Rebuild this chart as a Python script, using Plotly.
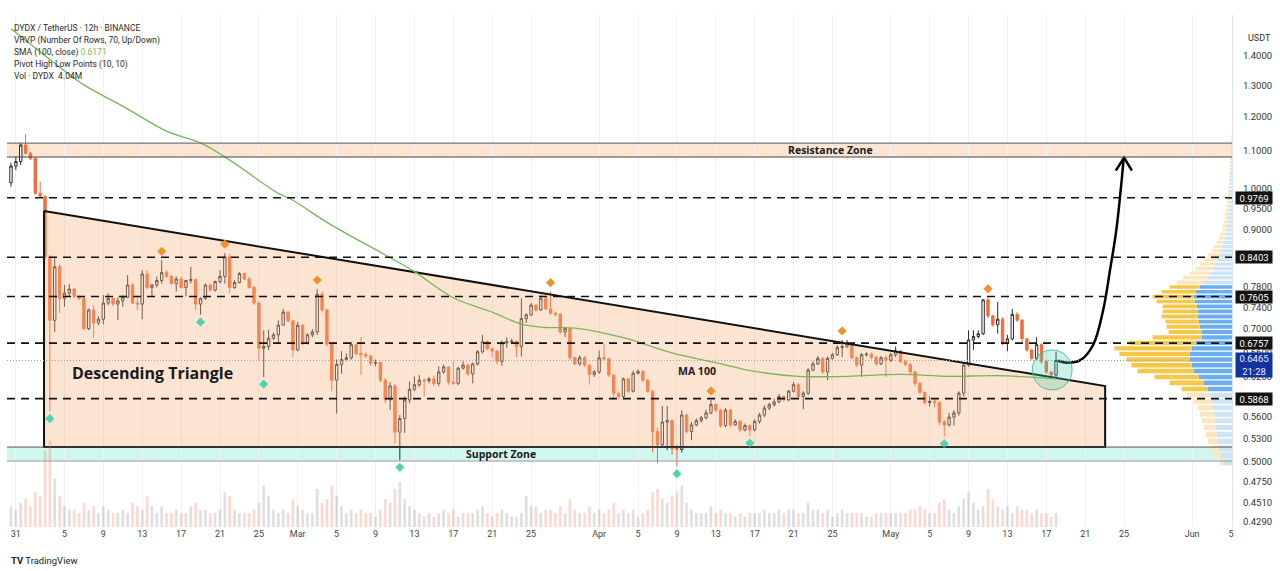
import math
import pandas as pd
import plotly.graph_objects as go

# ---------------- data ----------------
start = pd.Timestamp("2025-01-30 12:00")   # first 12h candle
first_open = 1.015

close = [1.059, 1.071, 1.117, 1.094, 1.080, 0.988, 0.981, 0.841, 0.716, 0.820,
         0.757, 0.767, 0.775, 0.761, 0.757, 0.701, 0.735, 0.711, 0.718, 0.748,
         0.757, 0.746, 0.752, 0.759, 0.783, 0.748, 0.746, 0.805, 0.778, 0.783,
         0.792, 0.808, 0.800, 0.786, 0.795, 0.778, 0.792, 0.794, 0.746, 0.757,
         0.783, 0.773, 0.790, 0.800, 0.841, 0.778, 0.788, 0.806, 0.795, 0.778,
         0.748, 0.667, 0.670, 0.684, 0.690, 0.707, 0.731, 0.715, 0.664, 0.707,
         0.676, 0.690, 0.695, 0.765, 0.735, 0.674, 0.615, 0.640, 0.648, 0.651,
         0.673, 0.658, 0.656, 0.654, 0.642, 0.643, 0.615, 0.585, 0.606, 0.539,
         0.558, 0.585, 0.601, 0.608, 0.615, 0.614, 0.617, 0.610, 0.628, 0.636,
         0.612, 0.610, 0.634, 0.639, 0.625, 0.641, 0.661, 0.678, 0.666, 0.662,
         0.645, 0.676, 0.678, 0.679, 0.670, 0.719, 0.726, 0.744, 0.735, 0.757,
         0.737, 0.729, 0.727, 0.695, 0.701, 0.651, 0.641, 0.651, 0.639, 0.624,
         0.628, 0.651, 0.649, 0.623, 0.595, 0.590, 0.617, 0.598, 0.626, 0.629,
         0.615, 0.598, 0.540, 0.522, 0.553, 0.555, 0.517, 0.516, 0.563, 0.540,
         0.549, 0.555, 0.559, 0.566, 0.578, 0.570, 0.548, 0.570, 0.549, 0.554,
         0.542, 0.548, 0.542, 0.554, 0.563, 0.573, 0.578, 0.582, 0.590, 0.585,
         0.598, 0.608, 0.590, 0.595, 0.631, 0.641, 0.650, 0.628, 0.650, 0.656,
         0.668, 0.670, 0.675, 0.651, 0.639, 0.656, 0.657, 0.652, 0.641, 0.651,
         0.647, 0.656, 0.662, 0.645, 0.640, 0.628, 0.610, 0.596, 0.581, 0.583,
         0.581, 0.553, 0.549, 0.560, 0.566, 0.595, 0.639, 0.681, 0.687, 0.692,
         0.754, 0.724, 0.708, 0.718, 0.676, 0.683, 0.727, 0.716, 0.683, 0.664,
         0.650, 0.673, 0.645, 0.628, 0.623, 0.6465]

high = [1.068, 1.084, 1.123, 1.148, 1.097, 1.080, 1.018, 0.981, 0.845, 0.841,
        0.825, 0.783, 0.785, 0.777, 0.761, 0.761, 0.738, 0.744, 0.723, 0.763,
        0.767, 0.757, 0.759, 0.763, 0.803, 0.787, 0.759, 0.813, 0.813, 0.785,
        0.800, 0.834, 0.813, 0.803, 0.800, 0.800, 0.793, 0.820, 0.796, 0.759,
        0.786, 0.785, 0.792, 0.813, 0.849, 0.848, 0.793, 0.809, 0.808, 0.800,
        0.781, 0.751, 0.698, 0.699, 0.694, 0.716, 0.737, 0.733, 0.717, 0.713,
        0.709, 0.693, 0.700, 0.775, 0.770, 0.737, 0.674, 0.648, 0.662, 0.658,
        0.678, 0.675, 0.686, 0.660, 0.656, 0.648, 0.645, 0.618, 0.612, 0.609,
        0.563, 0.590, 0.613, 0.621, 0.623, 0.618, 0.620, 0.622, 0.637, 0.640,
        0.637, 0.645, 0.636, 0.645, 0.641, 0.643, 0.664, 0.690, 0.680, 0.668,
        0.664, 0.680, 0.686, 0.683, 0.679, 0.757, 0.729, 0.748, 0.746, 0.763,
        0.762, 0.770, 0.731, 0.729, 0.704, 0.694, 0.653, 0.655, 0.654, 0.640,
        0.631, 0.663, 0.675, 0.651, 0.624, 0.596, 0.619, 0.618, 0.630, 0.632,
        0.630, 0.617, 0.600, 0.545, 0.576, 0.576, 0.557, 0.522, 0.570, 0.565,
        0.553, 0.558, 0.562, 0.571, 0.585, 0.580, 0.572, 0.573, 0.572, 0.557,
        0.556, 0.551, 0.550, 0.557, 0.566, 0.577, 0.581, 0.587, 0.594, 0.592,
        0.600, 0.612, 0.610, 0.598, 0.634, 0.645, 0.654, 0.652, 0.653, 0.659,
        0.672, 0.681, 0.681, 0.677, 0.653, 0.659, 0.660, 0.660, 0.654, 0.654,
        0.655, 0.659, 0.670, 0.664, 0.648, 0.642, 0.630, 0.612, 0.598, 0.590,
        0.586, 0.583, 0.556, 0.566, 0.570, 0.598, 0.642, 0.698, 0.698, 0.698,
        0.755, 0.758, 0.726, 0.750, 0.722, 0.690, 0.737, 0.731, 0.718, 0.685,
        0.666, 0.686, 0.675, 0.647, 0.629, 0.661]

low = [1.005, 1.048, 1.062, 1.090, 1.075, 0.984, 0.975, 0.835, 0.568, 0.695,
       0.729, 0.741, 0.761, 0.757, 0.753, 0.698, 0.698, 0.685, 0.707, 0.709,
       0.744, 0.742, 0.716, 0.741, 0.757, 0.746, 0.735, 0.718, 0.775, 0.761,
       0.778, 0.786, 0.798, 0.784, 0.770, 0.776, 0.761, 0.786, 0.735, 0.726,
       0.754, 0.770, 0.770, 0.786, 0.786, 0.767, 0.775, 0.786, 0.793, 0.776,
       0.744, 0.647, 0.620, 0.664, 0.681, 0.675, 0.707, 0.712, 0.652, 0.662,
       0.672, 0.673, 0.686, 0.690, 0.730, 0.670, 0.598, 0.565, 0.625, 0.645,
       0.648, 0.655, 0.623, 0.650, 0.638, 0.637, 0.612, 0.580, 0.570, 0.524,
       0.502, 0.538, 0.580, 0.598, 0.605, 0.590, 0.610, 0.606, 0.606, 0.625,
       0.608, 0.608, 0.607, 0.632, 0.622, 0.610, 0.638, 0.658, 0.663, 0.652,
       0.640, 0.638, 0.668, 0.674, 0.652, 0.653, 0.711, 0.724, 0.732, 0.733,
       0.735, 0.726, 0.722, 0.692, 0.686, 0.647, 0.639, 0.638, 0.636, 0.608,
       0.620, 0.625, 0.647, 0.620, 0.586, 0.586, 0.586, 0.595, 0.596, 0.624,
       0.612, 0.596, 0.512, 0.498, 0.518, 0.515, 0.509, 0.494, 0.512, 0.537,
       0.528, 0.547, 0.552, 0.557, 0.564, 0.567, 0.545, 0.546, 0.546, 0.548,
       0.539, 0.540, 0.534, 0.540, 0.551, 0.560, 0.570, 0.575, 0.580, 0.582,
       0.583, 0.596, 0.587, 0.571, 0.592, 0.629, 0.639, 0.625, 0.615, 0.648,
       0.654, 0.652, 0.667, 0.648, 0.636, 0.620, 0.653, 0.648, 0.638, 0.639,
       0.620, 0.644, 0.652, 0.642, 0.637, 0.624, 0.606, 0.593, 0.578, 0.575,
       0.574, 0.548, 0.533, 0.547, 0.548, 0.562, 0.590, 0.636, 0.664, 0.684,
       0.690, 0.720, 0.704, 0.692, 0.672, 0.662, 0.680, 0.713, 0.678, 0.661,
       0.647, 0.647, 0.641, 0.625, 0.620, 0.620]

volume_m = [6, 5, 7, 8, 6, 10, 9, 22, 25, 14, 9,
            6, 5, 5, 4, 7, 5, 6, 4, 6, 5, 4, 4, 5, 4, 7, 6, 5, 9, 6, 4,
            6, 4, 4, 5, 4, 4, 6, 7, 5, 5, 4, 4, 5, 10, 9, 5, 4, 4, 4, 5, 7, 12, 9, 5, 4,
            5, 4, 8, 6, 5, 4, 4, 11, 7, 8, 12, 9, 6, 4, 5, 4, 5, 4, 4, 3, 5, 8, 7, 11, 13,
            8, 6, 5, 4, 3, 4, 3, 4, 5, 4, 5, 3, 4, 4, 4, 5, 6, 4, 3, 4, 5, 4, 3, 3, 4, 9, 6, 6, 4, 5,
            5, 4, 6, 4, 8, 5, 4, 4, 6, 4, 5, 4, 5, 7, 4, 5, 4, 5, 3, 4, 5, 10, 11, 8, 7, 9, 10, 12, 7, 5,
            4, 4, 4, 6, 4, 5, 4, 4, 3, 4, 3, 4, 4, 4, 5, 4, 4, 5, 4, 5, 5, 4, 4, 7, 5, 5, 4, 5, 3, 4,
            5, 4, 4, 4, 4, 3, 3, 4, 4, 4, 4, 4, 4, 4, 5, 5, 6, 5, 4, 4, 7, 8, 5, 4, 6, 8, 10, 7, 5, 6,
            11, 8, 6, 5, 6, 4, 6, 5, 5, 4, 5, 4, 4, 3, 4.04]

pivot_high_idx = [31, 44, 63, 111, 144, 171, 201]
pivot_low_idx = [8, 39, 52, 80, 137, 152, 192]

sma_idx = [0, 8, 15, 23, 32, 39, 45, 55, 58, 65, 77, 83, 91, 99, 105, 110, 116,
           126, 136, 145, 153, 162, 172, 183, 193, 203, 215]
sma_val = [1.500, 1.388, 1.301, 1.233, 1.157, 1.123, 1.075, 0.988, 0.971, 0.918,
           0.845, 0.810, 0.758, 0.731, 0.709, 0.703, 0.702, 0.685, 0.659, 0.643,
           0.629, 0.621, 0.621, 0.624, 0.621, 0.622, 0.6171]

level_lines = [0.9769, 0.8403, 0.7605, 0.6757, 0.5868]
last_price = 0.6465
resistance_zone = [1.0835, 1.1225]
support_zone = [0.5009, 0.519]
triangle_idx = [6.8, 225.1, 225.1, 6.8, 6.8]
triangle_price = [0.9447, 0.6059, 0.519, 0.519, 0.9447]
arrow_idx = [215.4, 217.2, 220.0, 222.6, 224.7, 226.1, 227.4, 228.3, 228.9]
arrow_price = [0.646, 0.643, 0.647, 0.672, 0.735, 0.813, 0.900, 0.996, 1.078]
arrow_head_idx = [227.3, 229.0, 230.6]
arrow_head_price = [1.047, 1.081, 1.047]
circle_idx = [210.1, 218.3]
circle_price = [0.600, 0.664]

# VRVP: 70 rows between session low and high
vrvp_low, vrvp_high = 0.494, 1.148
vrvp_up = [8, 11, 13, 14, 15, 16, 17, 18, 19, 20, 22, 24, 28, 33, 38, 40, 42, 42, 40, 36,
           30, 30, 32, 33, 34, 34, 35, 37, 38, 36, 32, 28, 25, 22, 19, 17, 15, 13, 11, 10,
           8, 7, 6, 5, 5, 4, 4, 4, 3, 3, 3, 3, 2, 2, 2, 2, 2, 2, 2, 1,
           1, 1, 1, 1, 1, 1, 1, 1, 0.5, 0.5]
vrvp_down = [4, 7, 9, 10, 11, 12, 13, 14, 15, 18, 23, 26, 34, 44, 56, 60, 63, 70, 77, 66,
             49, 33, 33, 33, 36, 35, 34, 38, 41, 34, 30, 27, 24, 20, 17, 15, 13, 11, 9, 8,
             7, 6, 6, 5, 4, 4, 3, 3, 3, 3, 2, 2, 2, 2, 2, 1, 1, 1, 1, 1,
             1, 1, 1, 1, 1, 1, 0.5, 0.5, 0.5, 0.5]
value_area_rows = [11, 30]

y_tick_vals = [1.4, 1.3, 1.2, 1.1, 1.0, 0.95, 0.9, 0.78, 0.74, 0.70, 0.66, 0.62,
               0.56, 0.53, 0.50, 0.475, 0.451, 0.429]
x_tick_dates = ["2025-01-31", "2025-02-05", "2025-02-09", "2025-02-13", "2025-02-17",
                "2025-02-21", "2025-02-25", "2025-03-01", "2025-03-05", "2025-03-09",
                "2025-03-13", "2025-03-17", "2025-03-21", "2025-03-25", "2025-04-01",
                "2025-04-05", "2025-04-09", "2025-04-13", "2025-04-17", "2025-04-21",
                "2025-04-25", "2025-05-01", "2025-05-05", "2025-05-09", "2025-05-13",
                "2025-05-17", "2025-05-21", "2025-05-25", "2025-06-01", "2025-06-05"]
x_tick_text = ["31", "5", "9", "13", "17", "21", "25", "Mar", "5", "9", "13", "17", "21",
               "25", "Apr", "5", "9", "13", "17", "21", "25", "May", "5", "9", "13", "17",
               "21", "25", "Jun", "5"]

# ---------------- helpers ----------------
def t(i):
    return start + pd.Timedelta(hours=12 * i)

n = len(close)
times = [t(i) for i in range(n)]
opens = [first_open] + close[:-1]
highs = [max(h, o, c) for h, o, c in zip(high, opens, close)]
lows = [min(l, o, c) for l, o, c in zip(low, opens, close)]

UP_LINE = "#2b2b2b"
DOWN = "#f26b38"
FONT = "Roboto"

fig = go.Figure()

# triangle (filled)
fig.add_trace(go.Scatter(
    x=[t(i) for i in triangle_idx], y=triangle_price, mode="lines",
    fill="toself", fillcolor="rgba(248,180,130,0.36)",
    line=dict(color="#111111", width=2), hoverinfo="skip", showlegend=False))

# volume
vol_colors = ["rgba(150,150,150,0.30)" if c >= o else "rgba(240,130,100,0.30)"
              for o, c in zip(opens, close)]
fig.add_trace(go.Bar(x=times, y=volume_m, yaxis="y2", marker_color=vol_colors,
                     marker_line_width=0, width=12 * 3600 * 1000 * 0.55,
                     hoverinfo="skip", showlegend=False))

# SMA 100
fig.add_trace(go.Scatter(x=[t(i) for i in sma_idx], y=sma_val, mode="lines",
                         line=dict(color="#74b85a", width=1.3, shape="spline"),
                         hoverinfo="skip", showlegend=False))

# candles
fig.add_trace(go.Candlestick(
    x=times, open=opens, high=highs, low=lows, close=close,
    increasing=dict(line=dict(color=UP_LINE, width=1), fillcolor="#ffffff"),
    decreasing=dict(line=dict(color=DOWN, width=1), fillcolor=DOWN),
    whiskerwidth=0, showlegend=False, hoverinfo="skip"))

# pivots
fig.add_trace(go.Scatter(x=[times[i] for i in pivot_high_idx],
                         y=[highs[i] * 1.023 for i in pivot_high_idx], mode="markers",
                         marker=dict(symbol="diamond", size=7, color="#f0922b"),
                         hoverinfo="skip", showlegend=False))
fig.add_trace(go.Scatter(x=[times[i] for i in pivot_low_idx],
                         y=[lows[i] * 0.982 for i in pivot_low_idx], mode="markers",
                         marker=dict(symbol="diamond", size=7, color="#4fd1b2"),
                         hoverinfo="skip", showlegend=False))

# VRVP rectangles on a secondary x axis (0 at right edge)
row_h = (vrvp_high - vrvp_low) / len(vrvp_up)
groups = {"up_va": [], "dn_va": [], "up_out": [], "dn_out": []}
for k, (u, d) in enumerate(zip(vrvp_up, vrvp_down)):
    lo = vrvp_low + k * row_h + row_h * 0.12
    hi = vrvp_low + (k + 1) * row_h - row_h * 0.12
    inside = value_area_rows[0] <= k <= value_area_rows[1]
    gu = groups["up_va" if inside else "up_out"]
    gd = groups["dn_va" if inside else "dn_out"]
    gu.append(([0, u, u, 0, 0, None], [lo, lo, hi, hi, lo, None]))
    gd.append(([u, u + d, u + d, u, u, None], [lo, lo, hi, hi, lo, None]))
vr_colors = {"up_va": "#6aaef0", "dn_va": "#f5c84a",
             "up_out": "#cfe3f8", "dn_out": "#fbe7bb"}
for name, rects in groups.items():
    xs, ys = [], []
    for rx, ry in rects:
        xs += rx
        ys += ry
    fig.add_trace(go.Scatter(x=xs, y=ys, xaxis="x2", mode="lines", fill="toself",
                             fillcolor=vr_colors[name], line=dict(width=0),
                             hoverinfo="skip", showlegend=False))

# curved arrow
fig.add_trace(go.Scatter(x=[t(i) for i in arrow_idx], y=arrow_price, mode="lines",
                         line=dict(color="#000000", width=2.5, shape="spline"),
                         hoverinfo="skip", showlegend=False))
fig.add_trace(go.Scatter(x=[t(i) for i in arrow_head_idx], y=arrow_head_price,
                         mode="lines", line=dict(color="#000000", width=2.5),
                         hoverinfo="skip", showlegend=False))

shapes = []
# resistance zone
shapes.append(dict(type="rect", xref="paper", x0=0, x1=1, yref="y",
                   y0=resistance_zone[0], y1=resistance_zone[1],
                   fillcolor="rgba(250,190,145,0.40)", line=dict(width=0), layer="below"))
shapes.append(dict(type="line", xref="paper", x0=0, x1=1, yref="y",
                   y0=resistance_zone[1], y1=resistance_zone[1],
                   line=dict(color="#777777", width=1.2)))
shapes.append(dict(type="line", xref="paper", x0=0, x1=1, yref="y",
                   y0=resistance_zone[0], y1=resistance_zone[0],
                   line=dict(color="#444444", width=1.2)))
# support zone
shapes.append(dict(type="rect", xref="paper", x0=0, x1=1, yref="y",
                   y0=support_zone[0], y1=support_zone[1],
                   fillcolor="rgba(120,228,205,0.35)", line=dict(width=0), layer="below"))
shapes.append(dict(type="line", xref="paper", x0=0, x1=1, yref="y",
                   y0=support_zone[1], y1=support_zone[1],
                   line=dict(color="#555555", width=1)))
shapes.append(dict(type="line", xref="paper", x0=0, x1=1, yref="y",
                   y0=support_zone[0], y1=support_zone[0],
                   line=dict(color="#999999", width=1)))
# dashed levels
for lv in level_lines:
    shapes.append(dict(type="line", xref="paper", x0=0, x1=1, yref="y", y0=lv, y1=lv,
                       line=dict(color="#111111", width=1.6, dash="8px,6px")))
# last price dotted
shapes.append(dict(type="line", xref="paper", x0=0, x1=1, yref="y",
                   y0=last_price, y1=last_price,
                   line=dict(color="#9aa0aa", width=1, dash="1px,2px")))
# highlight circle
shapes.append(dict(type="circle", xref="x", yref="y",
                   x0=t(circle_idx[0]), x1=t(circle_idx[1]),
                   y0=circle_price[0], y1=circle_price[1],
                   fillcolor="rgba(80,210,180,0.30)",
                   line=dict(color="rgba(60,185,155,0.9)", width=1)))

L = math.log10
ann = []
def txt(i, price, s, size, bold=True, color="#1a1a1a", family="Open Sans"):
    ann.append(dict(x=t(i), y=L(price), xref="x", yref="y", text=f"<b>{s}</b>" if bold else s,
                    showarrow=False, font=dict(size=size, color=color, family=family)))

txt(168.7, 1.103, "Resistance Zone", 10.5)
txt(100.8, 0.5095, "Support Zone", 10.5)
txt(29.2, 0.626, "Descending Triangle", 16)
txt(141.2, 0.629, "MA 100", 10.5)

# right-axis price boxes
for lv in level_lines:
    ann.append(dict(xref="paper", x=1, xanchor="left", xshift=3, yref="y", y=L(lv),
                    text=f"{lv:.4f}", showarrow=False, bgcolor="#131313",
                    font=dict(size=9.5, color="#ffffff", family=FONT),
                    width=36, height=12, borderpad=0))
ann.append(dict(xref="paper", x=1, xanchor="left", xshift=3, yref="y", y=L(0.6386),
                text=f"{last_price:.4f}<br>21:28", showarrow=False, bgcolor="#12339e",
                font=dict(size=9.5, color="#e8eeff", family=FONT),
                width=36, height=24, borderpad=0))
ann.append(dict(xref="paper", x=1, xanchor="left", xshift=14, yref="paper",
                y=(527 - 31) / 512, text="USDT", showarrow=False,
                font=dict(size=9, color="#333333", family=FONT)))

# legend block
legend_lines = ["DYDX / TetherUS · 12h · BINANCE",
                "VRVP (Number Of Rows, 70, Up/Down)",
                "SMA (100, close) <span style='color:#74b85a'>0.6171</span>",
                "Pivot High Low Points (10, 10)",
                "Vol · DYDX  4.04M"]
for j, s in enumerate(legend_lines):
    ann.append(dict(xref="paper", x=0, xanchor="left", xshift=5, yref="paper",
                    y=(527 - (28 + 12 * j)) / 512, yanchor="middle", text=s,
                    showarrow=False, font=dict(size=8.5, color="#2a2a2a", family=FONT)))

# TradingView mark
ann.append(dict(xref="paper", x=0, xanchor="left", xshift=2, yref="paper",
                y=(527 - 560) / 512, yanchor="middle",
                text="<b>TV</b> TradingView", showarrow=False,
                font=dict(size=9.5, color="#222222", family=FONT)))

x_left = start - pd.Timedelta(hours=12 * 0.82)
x_right = start + pd.Timedelta(hours=12 * 251.2)
vr_max = max(u + d for u, d in zip(vrvp_up, vrvp_down))

fig.update_layout(
    width=1280, height=571,
    margin=dict(l=7, r=48, t=15, b=44),
    paper_bgcolor="#ffffff", plot_bgcolor="#ffffff",
    showlegend=False, shapes=shapes, annotations=ann,
    xaxis=dict(type="date", range=[x_left, x_right], rangeslider=dict(visible=False),
               tickvals=[pd.Timestamp(d) for d in x_tick_dates], ticktext=x_tick_text,
               showgrid=True, gridcolor="#eef0f3", gridwidth=1, zeroline=False,
               ticks="", tickfont=dict(size=9, color="#444444", family=FONT),
               showline=False, fixedrange=True),
    xaxis2=dict(overlaying="x", range=[vr_max / 0.096, 0], visible=False, fixedrange=True),
    yaxis=dict(type="log", side="right",
               range=[L(0.4237), L(1.5536)],
               tickvals=y_tick_vals, ticktext=[f"{v:.4f}" for v in y_tick_vals],
               showgrid=False, zeroline=False, ticks="", ticklabelstandoff=8,
               tickfont=dict(size=9.5, color="#333333", family=FONT),
               showline=True, linecolor="#e0e3eb", linewidth=1),
    yaxis2=dict(overlaying="y", range=[0, 148], visible=False, fixedrange=True),
)

fig.write_html("out.html")
